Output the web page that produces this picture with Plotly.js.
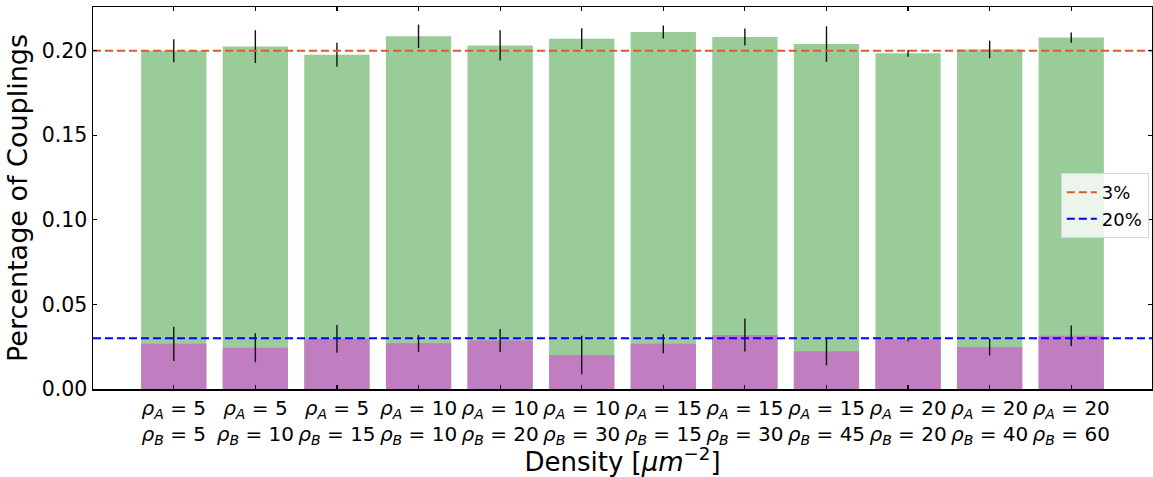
<!DOCTYPE html>
<html>
<head>
<meta charset="utf-8">
<script src="https://cdn.plot.ly/plotly-3.0.1.min.js"></script>
<style>
  html, body { margin: 0; padding: 0; background: #fff; }
  #chart { width: 1153px; height: 477px; }
</style>
</head>
<body>
<div id="chart"></div>
<script>
// Density settings (rho_A, rho_B) in um^-2
const rhoA = [5, 5, 5, 10, 10, 10, 15, 15, 15, 20, 20, 20];
const rhoB = [5, 10, 15, 10, 20, 30, 15, 30, 45, 20, 40, 60];

// Fraction of couplings for the broad (green) and narrow (purple) criteria
const totalMean = [0.2000, 0.2024, 0.1976, 0.2085, 0.2031, 0.2071, 0.2110, 0.2081, 0.2039, 0.1984, 0.2007, 0.2077];
const totalErr  = [0.0068, 0.0097, 0.0071, 0.0069, 0.0089, 0.0062, 0.0038, 0.0050, 0.0105, 0.0020, 0.0052, 0.0030];
const subMean   = [0.0267, 0.0244, 0.0297, 0.0270, 0.0286, 0.0201, 0.0268, 0.0319, 0.0223, 0.0294, 0.0248, 0.0315];
const subErr    = [0.0101, 0.0086, 0.0082, 0.0050, 0.0068, 0.0114, 0.0056, 0.0097, 0.0083, 0.0012, 0.0050, 0.0061];

// Reference levels drawn as dashed lines
const refNames  = ['3%', '20%'];
const refLevels = [0.20, 0.03];
const refColors = ['#e0592a', '#0000ff'];

const idx = rhoA.map((_, i) => i);
const tickText = idx.map(i =>
  '<i>ρ</i><sub><i>A</i></sub> = ' + rhoA[i] + '<br><i>ρ</i><sub><i>B</i></sub> = ' + rhoB[i]);

const xRange = [-0.99, idx.length - 1 + 0.99];

const errStyle = { type: 'data', color: '#111', thickness: 1.4, width: 0 };

const traces = [
  {
    type: 'bar', x: idx, y: totalMean, width: 0.8,
    marker: { color: '#99cc99', line: { width: 0 } },
    error_y: Object.assign({ array: totalErr }, errStyle),
    showlegend: false, hoverinfo: 'y'
  },
  {
    type: 'bar', x: idx, y: subMean, width: 0.8,
    marker: { color: '#c07dc0', line: { width: 0 } },
    error_y: Object.assign({ array: subErr }, errStyle),
    showlegend: false, hoverinfo: 'y'
  }
];

refLevels.forEach((lvl, k) => {
  traces.push({
    type: 'scatter', mode: 'lines', name: refNames[k],
    x: xRange, y: [lvl, lvl],
    line: { color: refColors[k], width: 2, dash: '8px,4px' },
    hoverinfo: 'name'
  });
});

const font = { family: 'DejaVu Sans, sans-serif', color: '#000' };

const layout = {
  width: 1153, height: 477,
  margin: { l: 93, r: 1, t: 7, b: 88, autoexpand: false },
  paper_bgcolor: '#fff', plot_bgcolor: '#fff',
  barmode: 'overlay',
  font: Object.assign({ size: 18 }, font),
  xaxis: {
    range: xRange, automargin: false, tickangle: 0,
    tickmode: 'array', tickvals: idx, ticktext: tickText,
    ticks: 'inside', ticklen: 4, tickwidth: 1.2, tickcolor: '#000',
    showline: true, linecolor: '#000', linewidth: 1.5, mirror: 'ticks',
    showgrid: false, zeroline: false,
    tickfont: Object.assign({ size: 20 }, font),
    title: { text: 'Density [<i>μm</i><sup>−2</sup>]', font: Object.assign({ size: 26 }, font), standoff: 4 }
  },
  yaxis: {
    range: [0, 0.2258], automargin: false,
    tickmode: 'array', tickvals: [0, 0.05, 0.10, 0.15, 0.20],
    ticktext: ['0.00', '0.05', '0.10', '0.15', '0.20'],
    ticks: 'inside', ticklen: 4, tickwidth: 1.2, tickcolor: '#000',
    showline: true, linecolor: '#000', linewidth: 1.5, mirror: 'ticks',
    showgrid: false, zeroline: false,
    tickfont: Object.assign({ size: 20.5 }, font),
    title: { text: 'Percentage of Couplings', font: Object.assign({ size: 27 }, font), standoff: 6 }
  },
  legend: {
    x: 0.997, y: 0.565, xanchor: 'right', yanchor: 'top',
    bgcolor: 'rgba(255,255,255,0.8)', bordercolor: '#d8d8d8', borderwidth: 1,
    font: Object.assign({ size: 18 }, font),
    itemwidth: 30, tracegroupgap: 0
  },
  showlegend: true
};

Plotly.newPlot('chart', traces, layout, { displayModeBar: false, staticPlot: true });
</script>
</body>
</html>
